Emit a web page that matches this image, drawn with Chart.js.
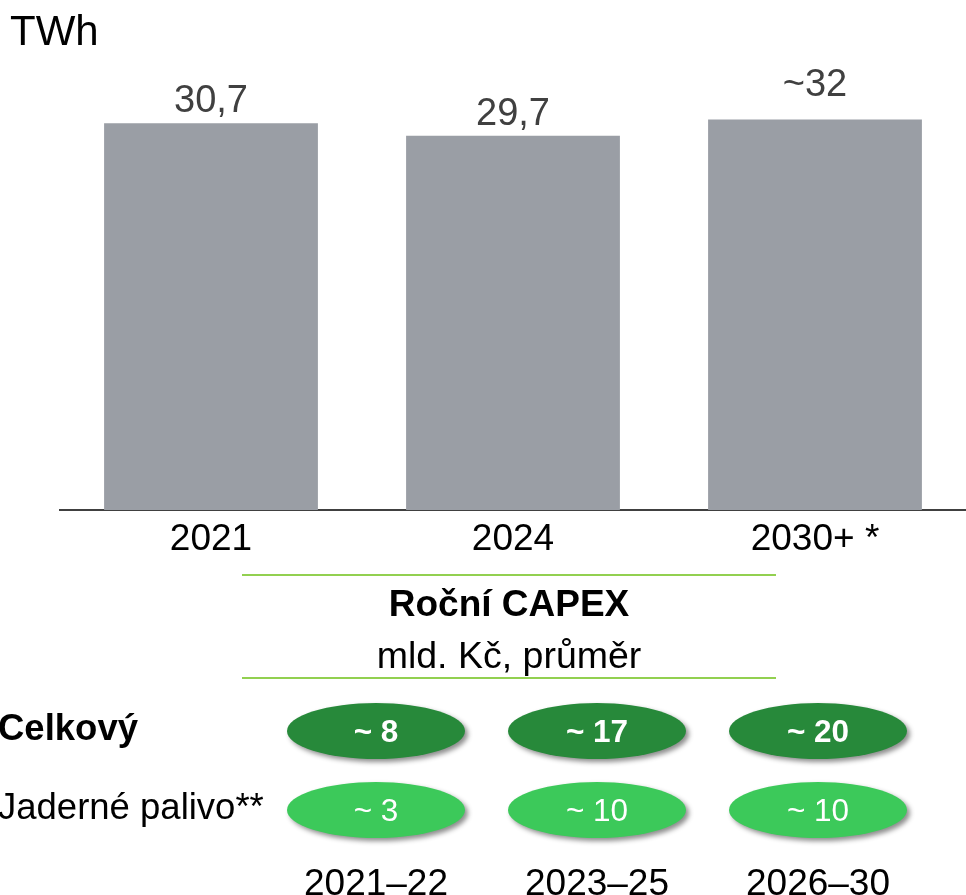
<!DOCTYPE html>
<html>
<head>
<meta charset="utf-8">
<script src="https://cdn.jsdelivr.net/npm/chart.js@4/dist/chart.umd.min.js"></script>
<style>
  body { margin: 0; background: #fff; }
  #wrap { position: relative; width: 966px; height: 895px; overflow: hidden; }
  canvas { position: absolute; left: 0; }
  #barChart { top: 0; }
  #capexChart { top: 690px; }
</style>
</head>
<body>
<div id="wrap">
  <canvas id="barChart" width="966" height="690"></canvas>
  <canvas id="capexChart" width="966" height="205"></canvas>
</div>
<script>
const years = ['2021', '2024', '2030+ *'];
const production = [30.7, 29.7, 31];
// the 2030+ label sits at its nominal value, a bit above the drawn bar
const labelValues = [30.7, 29.7, 32];
const productionLabels = ['30,7', '29,7', '~32'];

const periods = ['2021–22', '2023–25', '2026–30'];
const rows = ['Celkový', 'Jaderné palivo**'];
const capexTotal = [8, 17, 20];
const capexFuel = [3, 10, 10];

const FONT = '"Liberation Sans", Arial, sans-serif';

const barDecor = {
  id: 'barDecor',
  afterDatasetsDraw(chart) {
    const ctx = chart.ctx;
    const y = chart.scales.y;
    ctx.save();
    // unit
    ctx.fillStyle = '#000';
    ctx.font = '42px ' + FONT;
    ctx.textAlign = 'left';
    ctx.textBaseline = 'alphabetic';
    ctx.fillText('TWh', 10, 45);

    // values over bars
    ctx.fillStyle = '#404040';
    ctx.font = '38px ' + FONT;
    ctx.textAlign = 'center';
    chart.getDatasetMeta(0).data.forEach((bar, i) => {
      ctx.fillText(productionLabels[i], bar.x, y.getPixelForValue(labelValues[i]) - 11);
    });

    // CAPEX header block
    ctx.strokeStyle = '#92D050';
    ctx.lineWidth = 2;
    [575, 678].forEach(yy => {
      ctx.beginPath();
      ctx.moveTo(242, yy);
      ctx.lineTo(776, yy);
      ctx.stroke();
    });
    ctx.fillStyle = '#000';
    ctx.textBaseline = 'middle';
    ctx.font = 'bold 37px ' + FONT;
    ctx.fillText('Roční CAPEX', 509, 606);
    ctx.font = '37.5px ' + FONT;
    ctx.fillText('mld. Kč, průměr', 509, 658);
    ctx.restore();
  }
};

new Chart(document.getElementById('barChart'), {
  type: 'bar',
  data: {
    labels: years,
    datasets: [{
      data: production,
      backgroundColor: '#9A9EA5',
      barPercentage: 0.708,
      categoryPercentage: 1
    }]
  },
  options: {
    responsive: false,
    animation: false,
    events: [],
    layout: { padding: { left: 60, right: 0, top: 6, bottom: 0 } },
    plugins: { legend: { display: false }, tooltip: { enabled: false } },
    scales: {
      y: { display: false, min: 0, max: 40 },
      x: {
        grid: { display: false, drawTicks: false },
        border: { display: true, color: '#404040', width: 2 },
        ticks: { color: '#000', font: { family: FONT, size: 37 }, padding: 8 },
        afterFit(scale) { scale.height = 180; }
      }
    }
  },
  plugins: [barDecor]
});

const ellipses = {
  id: 'ellipses',
  afterDatasetsDraw(chart) {
    const ctx = chart.ctx;
    ctx.save();
    chart.data.datasets.forEach((ds, di) => {
      chart.getDatasetMeta(di).data.forEach((pt, i) => {
        ctx.save();
        ctx.shadowColor = 'rgba(0,0,0,0.45)';
        ctx.shadowBlur = 5;
        ctx.shadowOffsetX = 3;
        ctx.shadowOffsetY = 3;
        ctx.fillStyle = ds.fill_;
        ctx.beginPath();
        ctx.ellipse(pt.x, pt.y, 89, 28, 0, 0, Math.PI * 2);
        ctx.fill();
        ctx.restore();
        ctx.fillStyle = '#fff';
        ctx.font = (ds.bold ? 'bold ' : '') + '31.5px ' + FONT;
        ctx.textAlign = 'center';
        ctx.textBaseline = 'middle';
        ctx.fillText('~ ' + ds.values[i], pt.x, pt.y + 2);
      });
    });
    // row labels
    const y = chart.scales.y;
    ctx.fillStyle = '#000';
    ctx.textAlign = 'left';
    ctx.textBaseline = 'middle';
    ctx.font = 'bold 36.5px ' + FONT;
    ctx.fillText(rows[0], -2, y.getPixelForValue(0) - 1);
    ctx.font = '36.5px ' + FONT;
    ctx.fillText(rows[1], -2, y.getPixelForValue(1) - 1);
    ctx.restore();
  }
};

new Chart(document.getElementById('capexChart'), {
  type: 'line',
  data: {
    labels: periods,
    datasets: [
      { data: periods.map(p => ({ x: p, y: rows[0] })), values: capexTotal, fill_: '#27893A', bold: true },
      { data: periods.map(p => ({ x: p, y: rows[1] })), values: capexFuel, fill_: '#3CC95A', bold: false }
    ]
  },
  options: {
    responsive: false,
    animation: false,
    events: [],
    showLine: false,
    elements: { point: { radius: 0 } },
    layout: { padding: { left: 265.5, right: 37.5, top: 1.5, bottom: 0 } },
    plugins: { legend: { display: false }, tooltip: { enabled: false } },
    scales: {
      y: { type: 'category', labels: rows, offset: true, display: false },
      x: {
        type: 'category',
        offset: true,
        grid: { display: false, drawTicks: false },
        border: { display: false },
        ticks: { color: '#000', font: { family: FONT, size: 37 }, padding: 13 },
        afterFit(scale) { scale.height = 45.5; }
      }
    }
  },
  plugins: [ellipses]
});
</script>
</body>
</html>
